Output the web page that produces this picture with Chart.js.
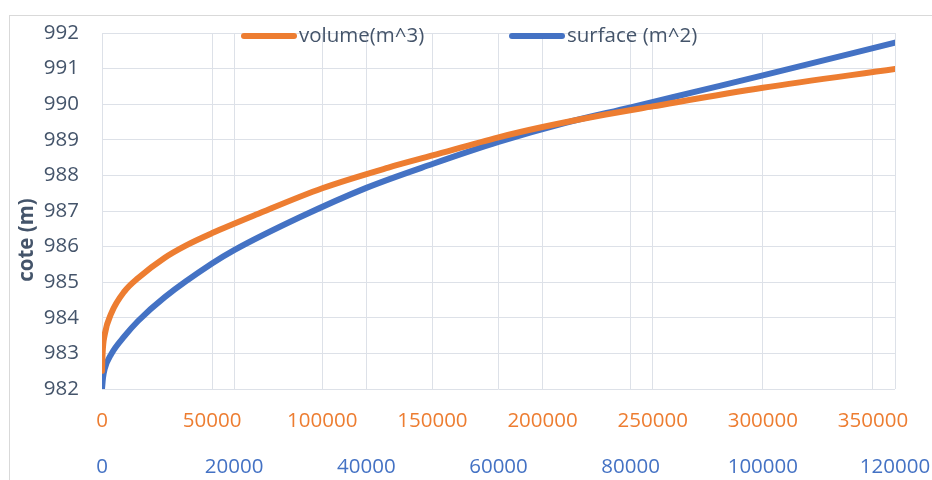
<!DOCTYPE html>
<html lang="fr">
<head>
<meta charset="UTF-8">
<title>cote - volume - surface</title>
<script src="https://cdn.jsdelivr.net/npm/chart.js"></script>
<style>
  html, body { margin: 0; padding: 0; background: #fff; }
  .wrap { width: 932px; height: 480px; }
</style>
</head>
<body>
<div class="wrap"><canvas id="coteChart" width="932" height="480"></canvas></div>
<script>
// volume (m^3) -> cote (m)
const volume      = [0, 300, 1200, 4250, 10300, 16400, 28500, 38000, 50000, 70000, 100000, 130000, 150000, 180000, 200000, 225000, 250000, 300000, 360000];
const coteVolume  = [982.51, 983.04, 983.52, 984.13, 984.75, 985.12, 985.69, 986.03, 986.38, 986.9, 987.64, 988.22, 988.56, 989.07, 989.36, 989.67, 989.94, 990.46, 990.99];

// surface (m^2) -> cote (m)
const surface     = [0, 150, 400, 1400, 3440, 5450, 9500, 16700, 20000, 30000, 40000, 50000, 60000, 70000, 80000, 90000, 100000, 120000];
const coteSurface = [982.0, 982.31, 982.56, 982.98, 983.49, 983.91, 984.58, 985.53, 985.9, 986.83, 987.65, 988.32, 988.94, 989.47, 989.91, 990.36, 990.81, 991.73];

// tick labels
const coteTicks    = [982, 983, 984, 985, 986, 987, 988, 989, 990, 991, 992];
const volumeTicks  = [0, 50000, 100000, 150000, 200000, 250000, 300000, 350000];
const surfaceTicks = [0, 20000, 40000, 60000, 80000, 100000, 120000];

const seriesNames = ['volume(m^3)', 'surface (m^2)'];
const ORANGE = '#ed7d31';
const BLUE = '#4472c4';
const TEXT = '#44546a';
const GRID = '#dde1e8';
const FONT = '"Open Sans", Lato, sans-serif';
const SIZE = 20.5;

const toPoints = (xs, ys) => xs.map((x, i) => ({ x: x, y: ys[i] }));
const fixedTicks = list => scale => { scale.ticks = list.map(v => ({ value: v })); };
const noSidePadding = s => { s.paddingLeft = 0; s.paddingRight = 0; };

// cadre gris autour du graphique
const framePlugin = {
    id: 'frame',
    beforeDraw(chart) {
        const ctx = chart.ctx;
        ctx.save();
        ctx.strokeStyle = '#d9d9d9';
        ctx.lineWidth = 1;
        ctx.strokeRect(9.5, 15.5, chart.width + 20, chart.height + 20);
        ctx.restore();
    }
};

// titre de l'axe vertical + légende en haut
const extrasPlugin = {
    id: 'extras',
    afterDraw(chart) {
        const ctx = chart.ctx;
        ctx.save();
        ctx.fillStyle = TEXT;
        ctx.font = 'bold ' + SIZE + 'px ' + FONT;
        ctx.textAlign = 'center';
        ctx.textBaseline = 'middle';
        ctx.translate(27, 240);
        ctx.rotate(-Math.PI / 2);
        ctx.fillText('cote (m)', 0, 0);
        ctx.restore();

        const starts = [241, 509];
        ctx.save();
        ctx.font = SIZE + 'px ' + FONT;
        ctx.textBaseline = 'middle';
        ctx.lineCap = 'round';
        chart.data.datasets.forEach((ds, i) => {
            const x0 = starts[i], y = 36;
            ctx.strokeStyle = ds.borderColor;
            ctx.lineWidth = 6;
            ctx.beginPath();
            ctx.moveTo(x0 + 3, y);
            ctx.lineTo(x0 + 53, y);
            ctx.stroke();
            ctx.fillStyle = TEXT;
            ctx.fillText(ds.label, x0 + 58, y);
        });
        ctx.restore();
    }
};

new Chart(document.getElementById('coteChart'), {
    type: 'scatter',
    data: {
        datasets: [
            {
                label: seriesNames[0],
                data: toPoints(volume, coteVolume),
                xAxisID: 'xv',
                yAxisID: 'y',
                borderColor: ORANGE,
                backgroundColor: ORANGE,
                borderWidth: 6,
                borderCapStyle: 'round',
                showLine: true,
                pointRadius: 0,
                cubicInterpolationMode: 'monotone'
            },
            {
                label: seriesNames[1],
                data: toPoints(surface, coteSurface),
                xAxisID: 'xs',
                yAxisID: 'y',
                borderColor: BLUE,
                backgroundColor: BLUE,
                borderWidth: 6,
                borderCapStyle: 'round',
                showLine: true,
                pointRadius: 0,
                cubicInterpolationMode: 'monotone'
            }
        ]
    },
    options: {
        responsive: false,
        animation: false,
        layout: { padding: { top: 33, right: 37, left: 0, bottom: 0 } },
        plugins: {
            legend: { display: false },
            tooltip: { enabled: false }
        },
        scales: {
            y: {
                position: 'left',
                min: 982,
                max: 992,
                afterBuildTicks: fixedTicks(coteTicks),
                afterFit: s => { s.width = 102; s.paddingTop = 0; s.paddingBottom = 0; },
                grid: { color: GRID, drawTicks: false },
                border: { display: false },
                ticks: { color: TEXT, padding: 23, font: { family: FONT, size: SIZE } }
            },
            xv: {
                type: 'linear',
                position: 'bottom',
                weight: 0,
                min: 0,
                max: 360000,
                afterBuildTicks: fixedTicks(volumeTicks),
                afterFit: s => { s.height = 46; noSidePadding(s); },
                grid: { color: GRID, drawTicks: false },
                border: { display: false },
                ticks: { color: ORANGE, padding: 20, maxRotation: 0, font: { family: FONT, size: SIZE }, callback: v => String(v) }
            },
            xs: {
                type: 'linear',
                position: 'bottom',
                weight: 1,
                min: 0,
                max: 120000,
                afterBuildTicks: fixedTicks(surfaceTicks),
                afterFit: s => { s.height = 45; noSidePadding(s); },
                grid: { color: GRID, drawTicks: false },
                border: { display: false },
                ticks: { color: BLUE, padding: 20, maxRotation: 0, font: { family: FONT, size: SIZE }, callback: v => String(v) }
            }
        }
    },
    plugins: [framePlugin, extrasPlugin]
});
</script>
</body>
</html>
